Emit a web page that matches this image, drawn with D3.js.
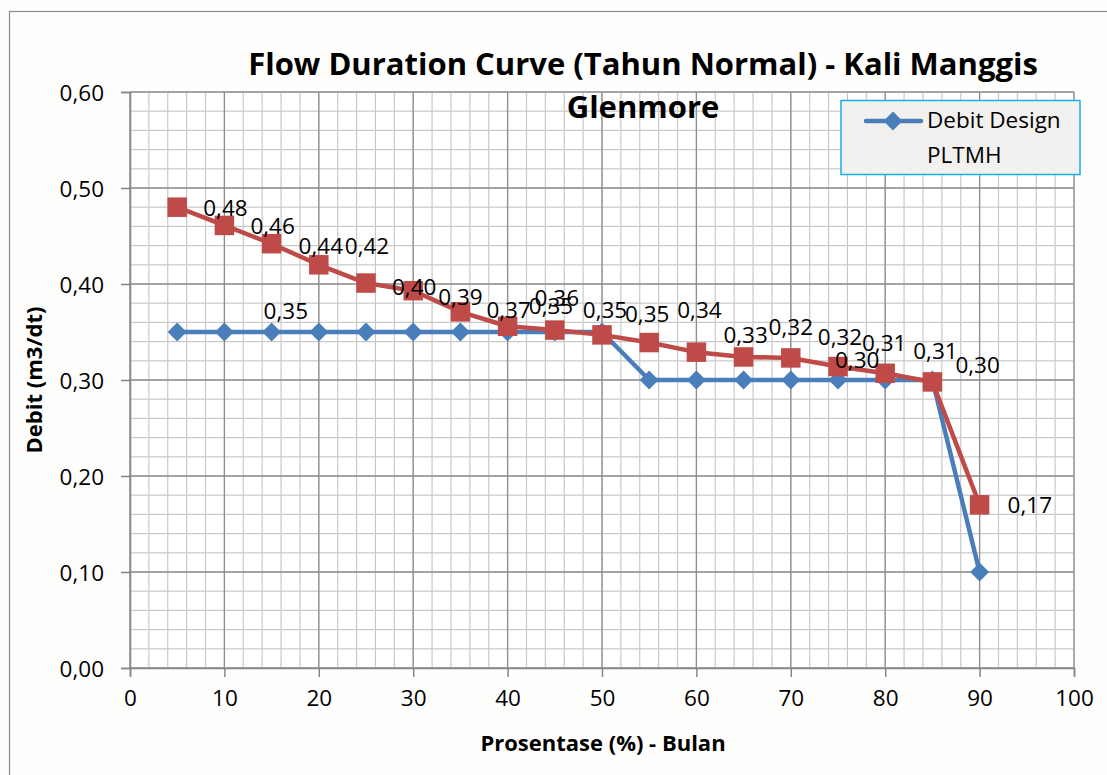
<!DOCTYPE html>
<html>
<head>
<meta charset="utf-8">
<script src="https://cdn.jsdelivr.net/npm/d3@7"></script>
<style>
  html, body { margin: 0; padding: 0; background: #ffffff; }
  svg { display: block; }
  text { font-family: "Open Sans", "Noto Sans", sans-serif; fill: #000; }
</style>
</head>
<body>
<svg id="chart" width="1107" height="775"></svg>
<script>
// ---- data ----
const percent = [5, 10, 15, 20, 25, 30, 35, 40, 45, 50, 55, 60, 65, 70, 75, 80, 85, 90];
const debitDesign = [0.35, 0.35, 0.35, 0.35, 0.35, 0.35, 0.35, 0.35, 0.35, 0.35, 0.30, 0.30, 0.30, 0.30, 0.30, 0.30, 0.30, 0.10];
const debitFDC = [0.480, 0.461, 0.442, 0.420, 0.401, 0.393, 0.371, 0.356, 0.352, 0.347, 0.339, 0.329, 0.324, 0.323, 0.314, 0.307, 0.298, 0.170];
const designLabelIndex = [2, 8, 14];
const xTicks = [0, 10, 20, 30, 40, 50, 60, 70, 80, 90, 100];
const yTicks = [0, 0.1, 0.2, 0.3, 0.4, 0.5, 0.6];
const titleLines = ["Flow Duration Curve (Tahun Normal) - Kali Manggis", "Glenmore"];
const legendLines = ["Debit Design", "PLTMH"];
const xTitle = "Prosentase (%) - Bulan";
const yTitle = "Debit (m3/dt)";

// ---- layout (pixel nudges for data labels, as placed in the original) ----
const fdcLabelNudge = [[26,9],[26,9],[27,10],[26,-11],[26,12],[25,14],[26,6],[27,-20],[28,-12],[23,-13],[28,-25],[27,-9],[25,-22],[27,-13],[24,-16],[28,-14],[23,-9],[28,8]];
const designLabelNudge = [[-8,-13],[-26,-18],[-3,-12]];

const fmt = v => d3.format(".2f")(v).replace(".", ",");

const svg = d3.select("#chart");
const W = 1107, H = 775;
const plot = { left: 130, right: 1074, top: 92, bottom: 668 };

svg.append("rect").attr("x", 0).attr("y", 0).attr("width", W).attr("height", H).attr("fill", "#fefefc");
svg.append("rect").attr("x", 9.5).attr("y", 11.5).attr("width", W + 20).attr("height", H + 20)
  .attr("fill", "#fefefc").attr("stroke", "#8a8a8a").attr("stroke-width", 1.2);

const x = d3.scaleLinear().domain([0, 100]).range([plot.left, plot.right]);
const y = d3.scaleLinear().domain([0, 0.6]).range([plot.bottom, plot.top]);

svg.append("rect").attr("x", plot.left).attr("y", plot.top)
  .attr("width", plot.right - plot.left).attr("height", plot.bottom - plot.top).attr("fill", "#ffffff");

// minor grid
const g = svg.append("g");
g.selectAll(".xminor").data(d3.range(0, 101, 2)).join("line")
  .attr("x1", d => x(d)).attr("x2", d => x(d)).attr("y1", plot.top).attr("y2", plot.bottom)
  .attr("stroke", "#c9c9c9").attr("stroke-width", 1.2);
g.selectAll(".yminor").data(d3.range(0, 31).map(i => i * 0.02)).join("line")
  .attr("y1", d => y(d)).attr("y2", d => y(d)).attr("x1", plot.left).attr("x2", plot.right)
  .attr("stroke", "#c9c9c9").attr("stroke-width", 1.2);
// major grid
g.selectAll(".xmajor").data(xTicks).join("line")
  .attr("x1", d => x(d)).attr("x2", d => x(d)).attr("y1", plot.top).attr("y2", plot.bottom)
  .attr("stroke", "#8f8f8f").attr("stroke-width", 1.3);
g.selectAll(".ymajor").data(yTicks).join("line")
  .attr("y1", d => y(d)).attr("y2", d => y(d)).attr("x1", plot.left).attr("x2", plot.right)
  .attr("stroke", "#8f8f8f").attr("stroke-width", 1.3);

// axes
const xAxis = d3.axisBottom(x).tickValues(xTicks).tickSize(9).tickPadding(13).tickFormat(d3.format("d"));
const yAxis = d3.axisLeft(y).tickValues(yTicks).tickSize(9).tickPadding(17).tickFormat(fmt);
const gx = svg.append("g").attr("transform", `translate(0,${plot.bottom})`).call(xAxis);
const gy = svg.append("g").attr("transform", `translate(${plot.left},0)`).call(yAxis);
[gx, gy].forEach(a => {
  a.select(".domain").attr("stroke", "#868686").attr("stroke-width", 1.5);
  a.selectAll(".tick line").attr("stroke", "#868686").attr("stroke-width", 1.5);
  a.selectAll(".tick text").style("font-family", "'Open Sans', sans-serif").style("font-size", "22.5px").attr("fill", "#000");
});
gy.selectAll(".tick text").attr("dy", "0.36em");

// axis titles
svg.append("text").attr("x", 603).attr("y", 751).attr("text-anchor", "middle")
  .style("font-size", "22px").style("font-weight", "bold").text(xTitle);
svg.append("text").attr("transform", "translate(42,380) rotate(-90)").attr("text-anchor", "middle")
  .style("font-size", "22px").style("font-weight", "bold").text(yTitle);

// title
svg.selectAll(".title").data(titleLines).join("text")
  .attr("x", 643).attr("y", (d, i) => 75 + i * 43).attr("text-anchor", "middle")
  .style("font-size", "31px").style("font-weight", "bold").text(d => d);

// series
const blue = "#4a7ebb", red = "#be4b48";
const pts = (vals) => percent.map((p, i) => [p, vals[i]]);
const line = d3.line().x(d => x(d[0])).y(d => y(d[1]));

svg.append("path").datum(pts(debitDesign)).attr("d", line)
  .attr("fill", "none").attr("stroke", blue).attr("stroke-width", 4.5).attr("stroke-linejoin", "round");
svg.selectAll(".dmark").data(pts(debitDesign)).join("path")
  .attr("d", d3.symbol().type(d3.symbolSquare).size(180))
  .attr("transform", d => `translate(${x(d[0])},${y(d[1])}) rotate(45)`)
  .attr("fill", blue);

svg.append("path").datum(pts(debitFDC)).attr("d", line)
  .attr("fill", "none").attr("stroke", red).attr("stroke-width", 4.5).attr("stroke-linejoin", "round");
svg.selectAll(".rmark").data(pts(debitFDC)).join("path")
  .attr("d", d3.symbol().type(d3.symbolSquare).size(380))
  .attr("transform", d => `translate(${x(d[0])},${y(d[1])})`)
  .attr("fill", red);

// data labels
svg.selectAll(".rlab").data(pts(debitFDC)).join("text")
  .attr("x", (d, i) => x(d[0]) + fdcLabelNudge[i][0])
  .attr("y", (d, i) => y(d[1]) + fdcLabelNudge[i][1])
  .style("font-size", "22.5px").text(d => fmt(d[1]));
svg.selectAll(".blab").data(designLabelIndex).join("text")
  .attr("x", (k, j) => x(percent[k]) + designLabelNudge[j][0])
  .attr("y", (k, j) => y(debitDesign[k]) + designLabelNudge[j][1])
  .style("font-size", "22.5px").text(k => fmt(debitDesign[k]));

// legend
const lg = svg.append("g");
lg.append("rect").attr("x", 841).attr("y", 100.5).attr("width", 239).attr("height", 74)
  .attr("fill", "#f2f1ef").attr("stroke", "#17b0e8").attr("stroke-width", 1.5);
lg.append("line").attr("x1", 866).attr("x2", 921).attr("y1", 121).attr("y2", 121)
  .attr("stroke", blue).attr("stroke-width", 4.5).attr("stroke-linecap", "round");
lg.append("path").attr("d", d3.symbol().type(d3.symbolSquare).size(180))
  .attr("transform", "translate(893,121) rotate(45)").attr("fill", blue);
lg.selectAll(".lt").data(legendLines).join("text")
  .attr("x", 927).attr("y", (d, i) => 128 + i * 35)
  .style("font-size", "22.5px").text(d => d);
</script>
</body>
</html>
